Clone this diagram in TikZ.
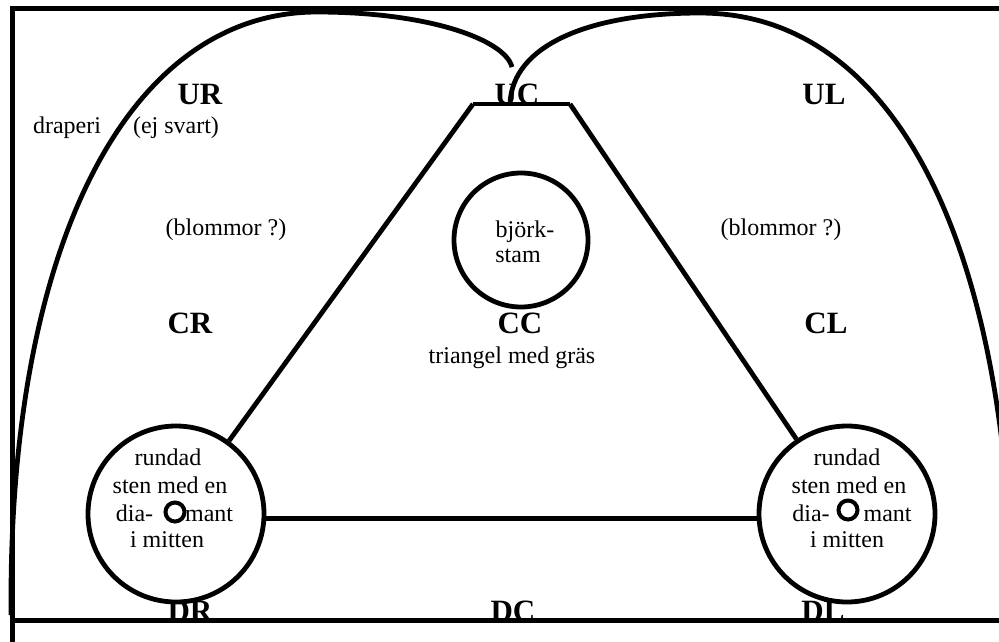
\documentclass[tikz,border=0pt]{standalone}
\usepackage{fontspec}
\setmainfont{Liberation Serif}
\begin{document}
\begin{tikzpicture}[x=1pt,y=-1pt,
  lbl/.style={font=\fontsize{31}{34}\selectfont\bfseries, inner sep=0pt, anchor=base},
  txt/.style={font=\fontsize{24}{28}\selectfont, inner sep=0pt, anchor=base},
  thick line/.style={line width=4.8pt},
  stone/.style={circle, draw, line width=4.8pt, minimum size=176pt, inner sep=0pt},
  trunk/.style={circle, draw, line width=4.8pt, minimum size=134pt, inner sep=0pt},
  gem/.style={circle, draw, line width=4pt, minimum size=19pt, inner sep=0pt}]
\useasboundingbox (0,0) rectangle (999,641);
\clip (0,0) rectangle (999,641);
\fill[white] (0,0) rectangle (999,641);

% labels
\node[lbl] (UR) at (200,104) {UR};
\node[lbl] (UC) at (517,104) {UC};
\node[lbl] (UL) at (824,104) {UL};
\node[lbl] (CR) at (190,333) {CR};
\node[lbl] (CC) at (520,333) {CC};
\node[lbl] (CL) at (826,333) {CL};
\node[lbl] (DR) at (190,621) {DR};
\node[lbl] (DC) at (513,621) {DC};
\node[lbl] (DL) at (823,621) {DL};

% texts
\node[txt] (drap) at (67,133) {draperi};
\node[txt] (ejsv) at (176,133) {(ej svart)};
\node[txt] (blomR) at (226,235) {(blommor ?)};
\node[txt] (blomL) at (781,235) {(blommor ?)};
\node[txt] (bj1) at (525,237) {björk-};
\node[txt] (bj2) at (518,262) {stam};
\node[txt] (tri) at (512,363) {triangel med gräs};

\node[txt] (sl1) at (168,465) {rundad};
\node[txt] (sl2) at (170,493) {sten med en};
\node[txt] (sl3) at (174.5,521) {dia-\hspace{32pt}mant};
\node[txt] (sl4) at (167,547) {i mitten};

\node[txt] (sr1) at (847,465) {rundad};
\node[txt] (sr2) at (849,493) {sten med en};
\node[txt] (sr3) at (852,521) {dia-\hspace{34pt}mant};
\node[txt] (sr4) at (847,547) {i mitten};

% frame
\coordinate (f1) at (1010,8.5);
\coordinate (f2) at (12,8.5);
\coordinate (f3) at (12,650);
\coordinate (f4) at (12,620);
\coordinate (f5) at (1010,620);
\draw[line width=5pt] (f1) -- (f2) -- (f3);
\draw[line width=5pt] (f4) -- (f5);

% circles
\node[stone] (stoneL) at (176,514) {};
\node[stone] (stoneR) at (847,514) {};
\node[trunk] (trunk) at (521,240) {};
\node[gem] (gemL) at (175,512) {};
\node[gem] (gemR) at (848,510) {};

% triangle
\coordinate (tl) at (473,104);
\coordinate (tr) at (570,104);
\draw[thick line] (tl) -- (tr);
\draw[thick line] (tl) -- (stoneL);
\draw[thick line] (tr) -- (stoneR);
\draw[thick line] (stoneL.-3) -- (stoneR.183);

% drapery arches
\coordinate (aLb) at (11,615);
\coordinate (aLt) at (317,12);
\coordinate (aLe) at (512,67);
\draw[thick line] (aLb) -- (11,600) .. controls (11,240) and (130,12) .. (aLt)
  .. controls (430,12) and (505,40) .. (aLe);
\coordinate (aRs) at (510,104);
\coordinate (aRt) at (700,13);
\coordinate (aRb) at (1012,620);
\draw[thick line] (aRs) .. controls (512,45) and (590,13) .. (aRt)
  .. controls (901,13) and (1012,259) .. (aRb);
\end{tikzpicture}
\end{document}
